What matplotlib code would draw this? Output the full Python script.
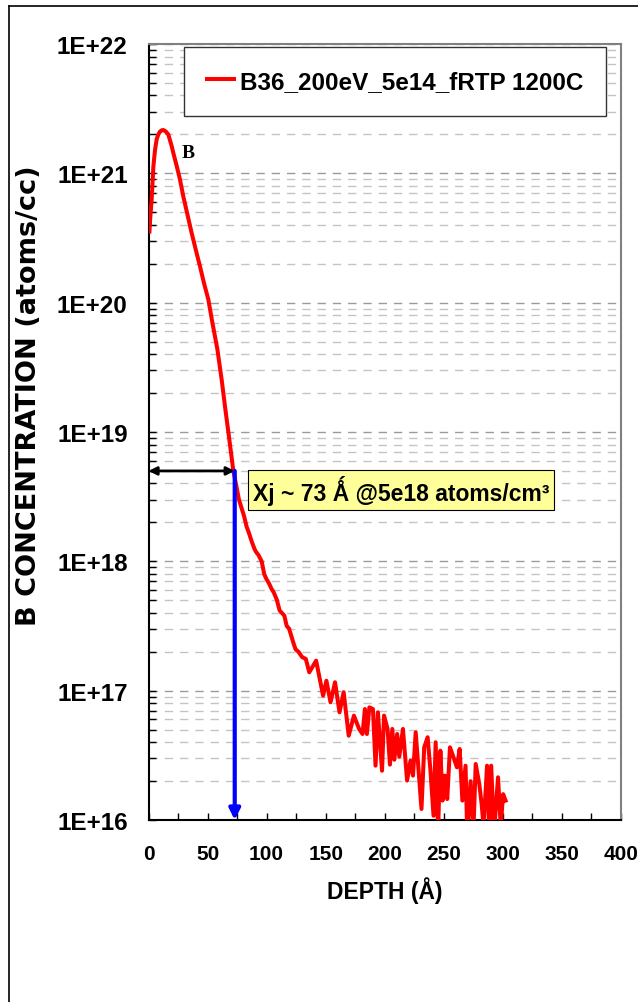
import numpy as np
import matplotlib
matplotlib.use("Agg")
import matplotlib.pyplot as plt
from matplotlib.ticker import LogLocator, NullFormatter, MultipleLocator, FixedLocator
from matplotlib.lines import Line2D

plt.rcParams['font.family'] = ['Liberation Sans', 'DejaVu Sans']
plt.rcParams['font.weight'] = 'bold'

# ---- data (depth in Angstrom, log10 of concentration) ----
depth = [0.8, 1.5, 2.7, 4.1, 5.5, 6.9, 8.3, 9.7, 11.0, 12.5, 14.5, 16.8, 19.6, 21.5, 23.9,
         26.7, 29.5, 33.0, 36.5, 40.0, 43.6, 47.0, 50.6, 54.0, 58.3, 62.0, 65.0, 67.6, 70.0,
         71.8, 74.0, 76.5, 78.5, 80.9, 83.0, 85.0, 87.5, 90.0, 91.5, 93.0, 95.8, 98.0, 100.0,
         102.0, 104.0, 106.0, 108.5, 111.0, 113.0, 115.0, 117.0, 119.0, 121.0, 123.0, 124.5,
         127.0, 130.0, 133.2, 136.1, 141.9, 147.8, 150.6, 154.1, 157.9, 161.7, 165.2, 169.5,
         173.9, 178.3, 181.2, 183.2, 184.9, 187.0, 190.0, 192.2, 194.2, 197.7, 199.4, 202.4,
         204.4, 206.4, 208.1, 210.5, 212.3, 215.4, 218.9, 221.8, 223.9, 226.2, 231.1, 233.4,
         236.3, 238.7, 241.3, 243.1, 245.1, 247.1, 248.9, 250.9, 252.9, 255.2, 258.2, 261.1,
         263.4, 265.7, 268.4, 269.8, 272.7, 275.0, 277.0, 280.0, 282.0, 283.7, 286.6, 288.6,
         290.1, 292.5, 295.9, 298.2, 300.2, 302.3]
log_conc = [20.55, 20.66, 20.80, 21.05, 21.18, 21.263, 21.30, 21.322, 21.332, 21.335, 21.325,
            21.30, 21.211, 21.14, 21.056, 20.95, 20.82, 20.68, 20.54, 20.41, 20.28, 20.15,
            20.026, 19.85, 19.64, 19.40, 19.18, 19.0, 18.83, 18.70, 18.60, 18.48, 18.42,
            18.35, 18.27, 18.22, 18.15, 18.09, 18.067, 18.05, 18.0, 17.90, 17.86, 17.83,
            17.79, 17.76, 17.706, 17.62, 17.60, 17.58, 17.50, 17.48, 17.42, 17.36, 17.32,
            17.30, 17.26, 17.245, 17.142, 17.232, 16.961, 17.077, 16.910, 17.065, 16.833,
            16.988, 16.652, 16.807, 16.704, 16.665, 16.858, 16.665, 16.871, 16.858, 16.42,
            16.833, 16.381, 16.807, 16.704, 16.428, 16.704, 16.466, 16.665, 16.49, 16.704,
            16.305, 16.459, 16.343, 16.678, 16.085, 16.562, 16.64, 16.381, 16.033, 16.601,
            15.9, 16.536, 16.15, 16.343, 16.162, 16.562, 16.485, 16.407, 16.549, 16.150,
            16.42, 15.9, 16.30, 15.9, 16.433, 16.28, 16.125, 15.95, 16.42, 15.9, 16.42, 15.9,
            16.33, 15.95, 16.2, 16.15]
conc = [10 ** v for v in log_conc]

series_label = "B36_200eV_5e14_fRTP 1200C"
y_ticks = [1e16, 1e17, 1e18, 1e19, 1e20, 1e21, 1e22]
y_tick_labels = ['1E+16', '1E+17', '1E+18', '1E+19', '1E+20', '1E+21', '1E+22']
x_ticks = [0, 50, 100, 150, 200, 250, 300, 350, 400]
xj_depth = 73
xj_conc = 5e18
xj_text = "Xj ~ 73 Ǻ @5e18 atoms/cm³"

# ---- figure ----
W, H = 638, 1003
fig = plt.figure(figsize=(W / 100, H / 100), dpi=100)
ax = fig.add_axes([148.5 / W, 1 - 821 / H, 472.5 / W, 776 / H])

ax.plot(depth, conc, color='#FF0000', lw=2.9, label=series_label, zorder=3,
        solid_joinstyle='round')

ax.set_yscale('log')
ax.set_xlim(0, 400)
ax.set_ylim(1e16, 1e22)

ax.yaxis.set_major_locator(FixedLocator(y_ticks))
ax.set_yticklabels(y_tick_labels)
ax.yaxis.set_minor_locator(LogLocator(base=10, subs=np.arange(2, 10), numticks=20))
ax.yaxis.set_minor_formatter(NullFormatter())
ax.set_xticks(x_ticks)
ax.xaxis.set_minor_locator(MultipleLocator(25))

ax.tick_params(axis='y', which='both', direction='in', length=5, width=1, left=True,
               right=False, labelsize=17.5, pad=15)
ax.tick_params(axis='x', which='both', direction='in', length=5, width=1, top=False,
               labelsize=15, pad=17)
for lab in ax.get_xticklabels() + ax.get_yticklabels():
    lab.set_fontweight('bold')

ax.yaxis.grid(True, which='major', linestyle=(0, (6, 5)), color='#9a9a9a', lw=1.0)
ax.yaxis.grid(True, which='minor', linestyle=(0, (6, 5)), color='#c4c4c4', lw=1.0)
ax.set_axisbelow(True)

for side in ['left', 'bottom']:
    ax.spines[side].set_color('black')
    ax.spines[side].set_linewidth(1.5)
for side in ['top', 'right']:
    ax.spines[side].set_color('#808080')
    ax.spines[side].set_linewidth(1.5)

leg = ax.legend(loc='upper left', bbox_to_anchor=(0.0745, 0.9965), borderaxespad=0,
                fancybox=False, framealpha=1, edgecolor='#333333', borderpad=0.95,
                handlelength=1.1, handletextpad=0.25,
                prop={'family': ['Liberation Sans', 'DejaVu Sans'], 'weight': 'bold',
                      'size': 17.5})
leg.get_frame().set_linewidth(1.0)
leg.set_zorder(5)

# "B" label near peak
ax.text(33.4, 1.46e21, "B", family=['Liberation Serif', 'DejaVu Serif'],
        fontweight='bold', fontsize=14, ha='center', va='center')

# junction depth arrows
ax.annotate('', xy=(0, xj_conc), xytext=(xj_depth, xj_conc),
            arrowprops=dict(arrowstyle='<|-|>', color='black', lw=2, shrinkA=0, shrinkB=0,
                            mutation_scale=12), zorder=4)
ax.annotate('', xy=(xj_depth, 1e16), xytext=(xj_depth, xj_conc),
            arrowprops=dict(arrowstyle='-|>', color='#0000FF', lw=3, shrinkA=0, shrinkB=0,
                            mutation_scale=16), zorder=4)

ax.text(88.4, 3.57e18, xj_text, fontsize=16.5, fontweight='bold', ha='left', va='center',
        family=['Liberation Sans', 'DejaVu Sans'],
        bbox=dict(boxstyle='square,pad=0.22', fc='#FFFF99', ec='black', lw=0.8), zorder=6)

# axis titles
fig.text(384.75 / W, 1 - 891 / H, "DEPTH (Å)", fontsize=16.5, fontweight='bold',
         ha='center', va='center')
fig.text(29 / W, 1 - 396 / H, "B CONCENTRATION (atoms/cc)", fontsize=19.5,
         fontweight='bold', ha='center', va='center', rotation=90,
         family=['DejaVu Sans'])

# outer chart-area border (left and top edges visible)
fig.add_artist(Line2D([8.5 / W, 8.5 / W], [0, 1 - 7 / H], color='black', lw=1.2,
                      transform=fig.transFigure))
fig.add_artist(Line2D([8.5 / W, 1], [1 - 7 / H, 1 - 7 / H], color='black', lw=1.2,
                      transform=fig.transFigure))

fig.savefig('out.png', dpi=100)
